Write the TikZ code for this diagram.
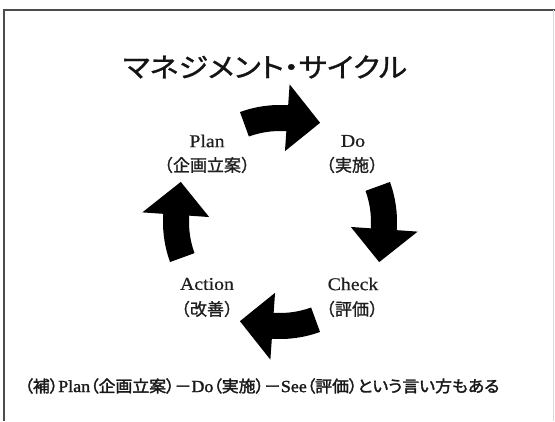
\documentclass[tikz,border=0pt]{standalone}
\usepackage{fontspec}
\newfontfamily\jp[FakeBold=1.2]{Noto Sans CJK JP}
\newfontfamily\jpt[FakeBold=1.0,RawFeature=+palt]{Noto Sans CJK JP}
\newfontfamily\jpb[FakeBold=2.0,RawFeature=+palt]{Noto Sans CJK JP}
\newfontfamily\en[FakeStretch=1.1,FakeBold=0.5]{Liberation Serif}
\newfontfamily\enb[FakeBold=1.5]{Liberation Serif}
\newcommand{\pdcaArrow}[1]{%
  \fill[shift={(280,199)}, fill=black]
    ({#1+20}:117) arc[start angle={#1+20}, end angle={#1-4}, radius=117]
    -- ({#1-4}:138) -- ({#1-22}:107) -- ({#1-4}:71) -- ({#1-4}:91)
    arc[start angle={#1-4}, end angle={#1+20}, radius=91] -- cycle;}
\begin{document}
\begin{tikzpicture}[x=1pt,y=1pt,
  entext/.style={inner sep=0pt, text=black!88, font=\en\fontsize{18}{20}\selectfont},
  jptext/.style={inner sep=0pt, text=black!88, font=\jp\fontsize{17}{19}\selectfont},
  frameline/.style={draw=black!70, line width=1.8pt}]
\useasboundingbox (0,0) rectangle (555,421);
\fill[white] (0,0) rectangle (555,421);
% frame
\coordinate (ftl) at (4,411);
\coordinate (fbl) at (4,0);
\coordinate (ftr) at (555,411);
\draw[frameline] (fbl) -- (ftl) -- (ftr);
\draw[black!15, line width=0.6pt] (553,411) -- (553,0);
% title
\node[inner sep=0pt, text=black!92, font=\jpt\fontsize{27}{30}\selectfont] (title) at (265,354)
  {\resizebox{284pt}{\height}{マネジメント・サイクル}};
% labels
\node[entext] (planEN) at (207,280) {Plan};
\node[jptext] (planJP) at (207,256) {（企画立案）};
\node[entext] (doEN) at (353,280) {Do};
\node[jptext] (doJP) at (352,256) {（実施）};
\node[entext] (checkEN) at (353,137) {Check};
\node[jptext] (checkJP) at (352,112) {（評価）};
\node[entext] (actionEN) at (207,137) {Action};
\node[jptext] (actionJP) at (207,112) {（改善）};
% arrows
\pdcaArrow{90}
\pdcaArrow{0}
\pdcaArrow{-90}
\pdcaArrow{180}
% note
\node[inner sep=0pt, text=black!90, font=\jpb\fontsize{16}{18}\selectfont] (note) at (262,35)
  {\resizebox{475pt}{\height}{（補）{\enb\fontsize{17}{18}\selectfont Plan}（企画立案）－{\enb\fontsize{17}{18}\selectfont Do}（実施）－{\enb\fontsize{17}{18}\selectfont See}（評価）という言い方もある}};
\end{tikzpicture}
\end{document}
